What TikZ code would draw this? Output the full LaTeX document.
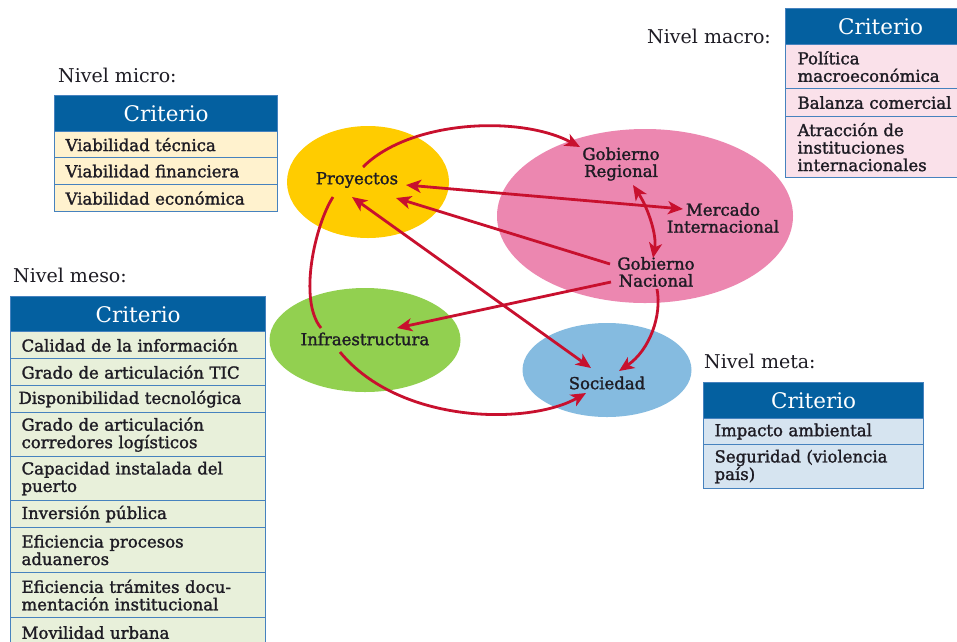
\documentclass[tikz,border=0pt]{standalone}
\usepackage{fontspec}
\setmainfont{DejaVu Serif}
\newfontfamily\cellface[FakeBold=1.6]{DejaVu Serif}
\usetikzlibrary{arrows.meta,shapes.geometric}

\definecolor{hdrblue}{RGB}{4,96,160}
\definecolor{rowline}{RGB}{70,130,190}
\definecolor{microfill}{RGB}{255,242,206}
\definecolor{mesofill}{RGB}{232,240,218}
\definecolor{macrofill}{RGB}{250,225,234}
\definecolor{metafill}{RGB}{214,228,240}
\definecolor{proyfill}{RGB}{255,204,0}
\definecolor{govfill}{RGB}{236,135,176}
\definecolor{infrafill}{RGB}{146,208,80}
\definecolor{socfill}{RGB}{133,187,224}
\definecolor{linkred}{RGB}{200,16,46}
\definecolor{ink}{RGB}{30,28,36}

\tikzset{
  tbl/.style={draw=rowline, line width=1.2pt, anchor=north west, inner xsep=11pt,
    inner ysep=0pt, align=left, text=ink,
    font=\cellface\fontsize{16.5}{17.5}\selectfont},
  hdr/.style={tbl, fill=hdrblue, text=white, align=center, minimum height=36pt,
    font=\fontsize{21.5}{22}\selectfont},
  lvl/.style={anchor=base west, inner sep=0pt, text=ink,
    font=\fontsize{19}{20}\selectfont},
  blob/.style={ellipse, draw=none, inner sep=0pt},
  tag/.style={align=center, inner sep=0pt, text=ink,
    font=\cellface\fontsize{16.5}{17}\selectfont},
  link/.style={draw=linkred, line width=2.8pt,
    -{Stealth[length=15pt,width=13pt,inset=4pt]}},
  twoway/.style={link, {Stealth[length=15pt,width=13pt,inset=4pt]}-{Stealth[length=15pt,width=13pt,inset=4pt]}},
  plain/.style={draw=linkred, line width=2.8pt}
}

\begin{document}
\begin{tikzpicture}[x=1pt,y=-1pt]
\useasboundingbox (0,0) rectangle (957,641);
\clip (0,0) rectangle (957,641);
\fill[white] (0,0) rectangle (957,641);

% ---------- Nivel micro ----------
\node[lvl] (lMicro) at (58,82) {Nivel micro:};
\node[hdr, text width=201pt] (hMicro) at (54,95) {Criterio};
\node[tbl, fill=microfill, text width=201pt, minimum height=26pt] (mi1) at (54,131) {Viabilidad técnica};
\node[tbl, fill=microfill, text width=201pt, minimum height=27pt] (mi2) at (54,157) {Viabilidad financiera};
\node[tbl, fill=microfill, text width=201pt, minimum height=27pt] (mi3) at (54,184) {Viabilidad económica};

% ---------- Nivel meso ----------
\node[lvl] (lMeso) at (13,282) {Nivel meso:};
\node[hdr, text width=233pt] (hMeso) at (10,296) {Criterio};
\node[tbl, fill=mesofill, text width=233pt, minimum height=27pt] (me1) at (10,331) {Calidad de la información};
\node[tbl, fill=mesofill, text width=233pt, minimum height=27pt] (me2) at (10,358) {Grado de articulación TIC};
\node[tbl, fill=mesofill, minimum height=27pt, inner xsep=8pt, text width=239pt] (me3) at (10,385) {Disponibilidad tecnológica};
\node[tbl, fill=mesofill, text width=233pt, minimum height=44pt] (me4) at (10,412) {Grado de articulación\\corredores logísticos};
\node[tbl, fill=mesofill, text width=233pt, minimum height=44pt] (me5) at (10,456) {Capacidad instalada del\\puerto};
\node[tbl, fill=mesofill, text width=233pt, minimum height=27pt] (me6) at (10,500) {Inversión pública};
\node[tbl, fill=mesofill, text width=233pt, minimum height=45pt] (me7) at (10,527) {Eficiencia procesos\\aduaneros};
\node[tbl, fill=mesofill, text width=233pt, minimum height=45pt] (me8) at (10,572) {Eficiencia trámites docu-\\mentación institucional};
\node[tbl, fill=mesofill, text width=233pt, minimum height=30pt] (me9) at (10,617) {Movilidad urbana};

% ---------- Nivel macro ----------
\node[lvl] (lMacro) at (647,43) {Nivel macro:};
\node[hdr, text width=166pt, inner xsep=12pt] (hMacro) at (785,8) {Criterio};
\node[tbl, fill=macrofill, text width=166pt, inner xsep=12pt, minimum height=44pt] (ma1) at (785,44) {Política\\macroeconómica};
\node[tbl, fill=macrofill, text width=166pt, inner xsep=12pt, minimum height=28pt] (ma2) at (785,88) {Balanza comercial};
\node[tbl, fill=macrofill, text width=166pt, inner xsep=12pt, minimum height=61pt] (ma3) at (785,116) {Atracción de\\instituciones\\internacionales};

% ---------- Nivel meta ----------
\node[lvl] (lMeta) at (704,368) {Nivel meta:};
\node[hdr, text width=198pt] (hMeta) at (703,382) {Criterio};
\node[tbl, fill=metafill, text width=198pt, minimum height=26pt] (mt1) at (703,418) {Impacto ambiental};
\node[tbl, fill=metafill, text width=198pt, minimum height=44pt] (mt2) at (703,444) {Seguridad (violencia\\país)};

% ---------- Actors ----------
\node[blob, fill=proyfill, minimum width=162pt, minimum height=112pt] (eProy) at (368,182) {};
\node[blob, fill=govfill, minimum width=296pt, minimum height=174pt] (eGov) at (645,216) {};
\node[blob, fill=infrafill, minimum width=191pt, minimum height=104pt] (eInfra) at (365,340) {};
\node[blob, fill=socfill, minimum width=169pt, minimum height=94pt] (eSoc) at (607,370) {};

\node[tag] (tProy) at (357,180) {Proyectos};
\node[tag] (tReg) at (621,164) {Gobierno\\Regional};
\node[tag] (tMerc) at (723,218) {Mercado\\Internacional};
\node[tag] (tNac) at (656,272) {Gobierno\\Nacional};
\node[tag] (tInfra) at (365,339) {Infraestructura};
\node[tag] (tSoc) at (607,383) {Sociedad};

% ---------- Connector end points ----------
\coordinate (proyTop) at (363,167);
\coordinate (proyRight) at (406,185);
\coordinate (proyMid) at (396,198);
\coordinate (proyLow) at (352,197);
\coordinate (proyLeft) at (333,197);
\coordinate (regIn) at (580,147);
\coordinate (regLow) at (633,185);
\coordinate (mercIn) at (683,209);
\coordinate (nacTop) at (653,258);
\coordinate (nacLeft) at (610,264);
\coordinate (nacLeftLow) at (611,282);
\coordinate (nacBottom) at (657,289);
\coordinate (infraIn) at (397,328);
\coordinate (infraTop) at (321,328);
\coordinate (infraLow) at (340,352);
\coordinate (socTop) at (591,368);
\coordinate (socRight) at (619,371);
\coordinate (socLeft) at (586,393);

% ---------- Connectors ----------
\draw[link] (proyTop) .. controls (410,120) and (520,115) .. (regIn);
\draw[twoway] (proyRight) -- (mercIn);
\draw[link] (nacLeft) -- (proyMid);
\draw[twoway] (regLow) .. controls (648,208) and (657,235) .. (nacTop);
\draw[link] (nacLeftLow) -- (infraIn);
\draw[link] (nacBottom) .. controls (662,315) and (650,350) .. (socRight);
\draw[twoway] (proyLow) -- (socTop);
\draw[plain] (proyLeft) .. controls (315,225) and (298,300) .. (infraTop);
\draw[link] (infraLow) .. controls (400,425) and (530,425) .. (socLeft);
\end{tikzpicture}
\end{document}
